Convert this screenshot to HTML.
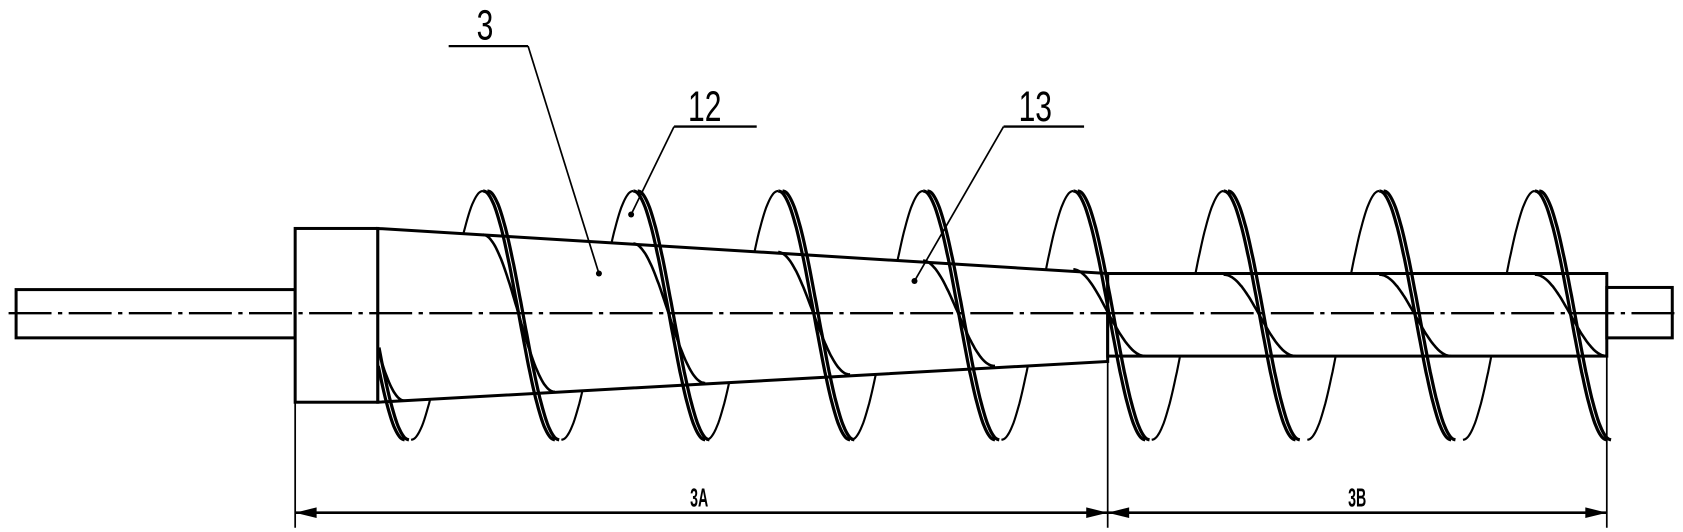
<!DOCTYPE html>
<html><head><meta charset="utf-8"><style>
html,body{margin:0;padding:0;background:#fff;}
svg{display:block;}
text{font-family:"Liberation Sans",sans-serif;fill:#000;}
</style></head><body>
<svg id="s" width="1683" height="532" viewBox="0 0 1568 496" preserveAspectRatio="none" xmlns="http://www.w3.org/2000/svg">
<g id="back" fill="none" stroke="#000" stroke-width="2"></g>
<g fill="#fff" stroke="#000" stroke-width="2.8">
<rect x="15" y="270" width="260" height="45"/>
<rect x="275" y="213" width="77" height="162"/>
<polygon points="352,213 1032,255 1032,337 352,375"/>
<rect x="1032" y="255" width="465" height="77"/>
<rect x="1497" y="268" width="61" height="47"/>
</g>
<g id="front" fill="none" stroke="#000"></g>
<line x1="8" y1="292" x2="1562" y2="292" stroke="#000" stroke-width="2.2" stroke-dasharray="40,6,4,6"/>
<g stroke="#000" stroke-width="1.6" fill="none">
<line x1="275" y1="213" x2="275" y2="492"/>
<line x1="1032" y1="337" x2="1032" y2="492"/>
<line x1="1497" y1="332" x2="1497" y2="492"/>
<line x1="275" y1="478" x2="1497" y2="478" stroke-width="2.4"/>
<line x1="418" y1="43" x2="492" y2="43" stroke-width="2.2"/>
<line x1="492" y1="43" x2="558" y2="255"/>
<line x1="628" y1="118" x2="705" y2="118" stroke-width="2.2"/>
<line x1="628" y1="118" x2="588" y2="200"/>
<line x1="935" y1="118" x2="1010" y2="118" stroke-width="2.2"/>
<line x1="935" y1="118" x2="852" y2="262"/>
</g>
<g fill="#000">
<circle cx="558" cy="255" r="2.8"/><circle cx="588" cy="200" r="2.8"/><circle cx="852" cy="262" r="2.8"/>
<polygon points="275,478 295,473 295,483"/>
<polygon points="1032,478 1012,473 1012,483"/>
<polygon points="1032,478 1052,473 1052,483"/>
<polygon points="1497,478 1477,473 1477,483"/>
</g>
<text x="0" y="0" font-size="40" transform="translate(444,37) scale(0.7,1)">3</text>
<text x="0" y="0" font-size="40" transform="translate(641,113) scale(0.7,1)">12</text>
<text x="0" y="0" font-size="40" transform="translate(949,113) scale(0.7,1)">13</text>
<text x="0" y="0" font-size="24" font-weight="bold" transform="translate(643,472) scale(0.55,1)">3A</text>
<text x="0" y="0" font-size="24" font-weight="bold" transform="translate(1256,472) scale(0.55,1)">3B</text>
</svg>
<script>
var peaks=[310,450,590,725,860,1000,1140,1285,1430];
var NS="http://www.w3.org/2000/svg";
function rad(x){ if(x<=1032) return 81-(x-352)/(1032-352)*40; return 38;}
function path(g,d,w){var p=document.createElementNS(NS,"path");p.setAttribute("d",d);p.setAttribute("stroke-width",w);document.getElementById(g).appendChild(p);}
var half=67;
for(var i=0;i<peaks.length;i++){
  var xp=peaks[i];
  for(var off=0;off<2;off++){
    var d="",started=false;
    for(var k=0;k<=60;k++){var t=Math.PI*k/60;var x=xp+half*t/Math.PI+off*4;var y=294-116*Math.cos(t);
      if(x<352)continue; d+=(started?"L":"M")+x.toFixed(1)+","+y.toFixed(1);started=true;}
    if(d) path("front",d,3);
  }
  var d2="",s2=false;
  for(var k=0;k<=60;k++){var t=Math.PI*k/60;var x=xp+half*t/Math.PI;var r=rad(x);var y=294-r*Math.cos(t);
    if(x<352)continue; d2+=(s2?"L":"M")+x.toFixed(1)+","+y.toFixed(1);s2=true;}
  if(d2) path("front",d2,2.4);
  var d3="",s3=false;
  for(var k=0;k<=60;k++){var t=Math.PI*k/60;var x=xp-half+ half*t/Math.PI;var y=294+116*Math.cos(t);
    if(x<352)continue; d3+=(s3?"L":"M")+x.toFixed(1)+","+y.toFixed(1);s3=true;}
  if(d3 && i>0) path("back",d3,2);
}
</script>
</body></html>
